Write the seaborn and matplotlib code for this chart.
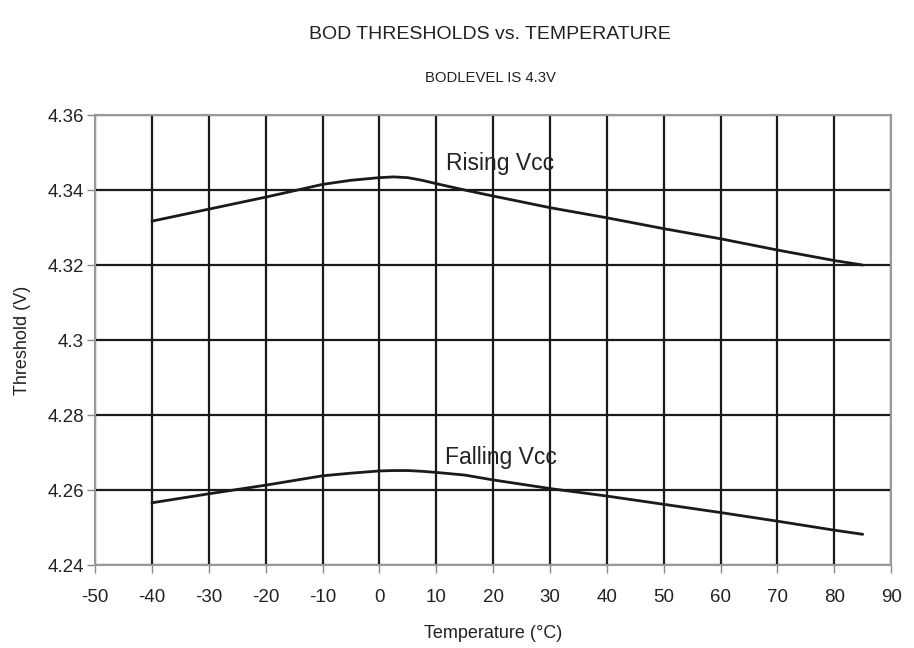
import matplotlib
matplotlib.use("Agg")
import matplotlib.pyplot as plt
import seaborn as sns
import pandas as pd

sns.set_style("white")
plt.rcParams['font.family'] = ['Liberation Sans', 'DejaVu Sans']
plt.rcParams['axes.unicode_minus'] = False

# data
temp = [-40, -30, -20, -10, -5, 0, 2.5, 5, 7.5, 10, 15, 20, 30, 40, 50, 60, 70, 80, 85]
rising = [4.3317, 4.3349, 4.3381, 4.3415, 4.3426, 4.3433, 4.3435, 4.3433, 4.3426,
          4.3417, 4.3400, 4.3384, 4.3353, 4.3326, 4.3297, 4.3270, 4.3240, 4.3212, 4.3200]
falling = [4.2566, 4.2590, 4.2613, 4.2638, 4.2645, 4.2651, 4.2652, 4.2652, 4.2650,
           4.2647, 4.2640, 4.2627, 4.2604, 4.2584, 4.2562, 4.2540, 4.2517, 4.2493, 4.2482]
xticks = list(range(-50, 91, 10))
yticks = [4.24, 4.26, 4.28, 4.30, 4.32, 4.34, 4.36]
ytick_labels = ['4.24', '4.26', '4.28', '4.3', '4.32', '4.34', '4.36']

df = pd.DataFrame({'temp': temp * 2,
                   'v': rising + falling,
                   'series': ['Rising Vcc'] * len(temp) + ['Falling Vcc'] * len(temp)})

fig = plt.figure(figsize=(9.14, 6.48), dpi=100)
ax = fig.add_axes([0.104, 0.128, 0.871, 0.6945])

sns.lineplot(data=df, x='temp', y='v', units='series', estimator=None,
             color='#1a1a1a', linewidth=2.0, ax=ax, zorder=3)

ax.set_xlim(-50, 90)
ax.set_ylim(4.24, 4.36)
ax.set_xticks(xticks)
ax.set_yticks(yticks)
ax.set_yticklabels(ytick_labels)
ax.grid(True, color='#1a1a1a', linewidth=1.6)
ax.tick_params(axis='both', which='both', direction='out', length=6, width=1,
               color='#888888', labelsize=13.5, left=True, bottom=True,
               labelcolor='#222222')
ax.tick_params(axis='x', pad=11)
ax.tick_params(axis='y', pad=2)
for s in ax.spines.values():
    s.set_color('#999999')
    s.set_linewidth(1.5)

ax.set_xlabel('Temperature (°C)', fontsize=13, labelpad=14, color='#222222')
ax.set_ylabel('Threshold (V)', fontsize=13, labelpad=12, color='#222222')

ax.text(11.8, 4.3453, 'Rising Vcc', fontsize=16.5, va='baseline', ha='left', color='#222222')
ax.text(11.6, 4.2669, 'Falling Vcc', fontsize=16.5, va='baseline', ha='left', color='#222222')

fig.text(0.536, 0.946, 'BOD THRESHOLDS vs. TEMPERATURE', fontsize=14, ha='center',
         va='center', color='#222222')
fig.text(0.537, 0.879, 'BODLEVEL IS 4.3V', fontsize=10.7, ha='center', va='center',
         color='#222222')

fig.savefig('out.png', dpi=100)
